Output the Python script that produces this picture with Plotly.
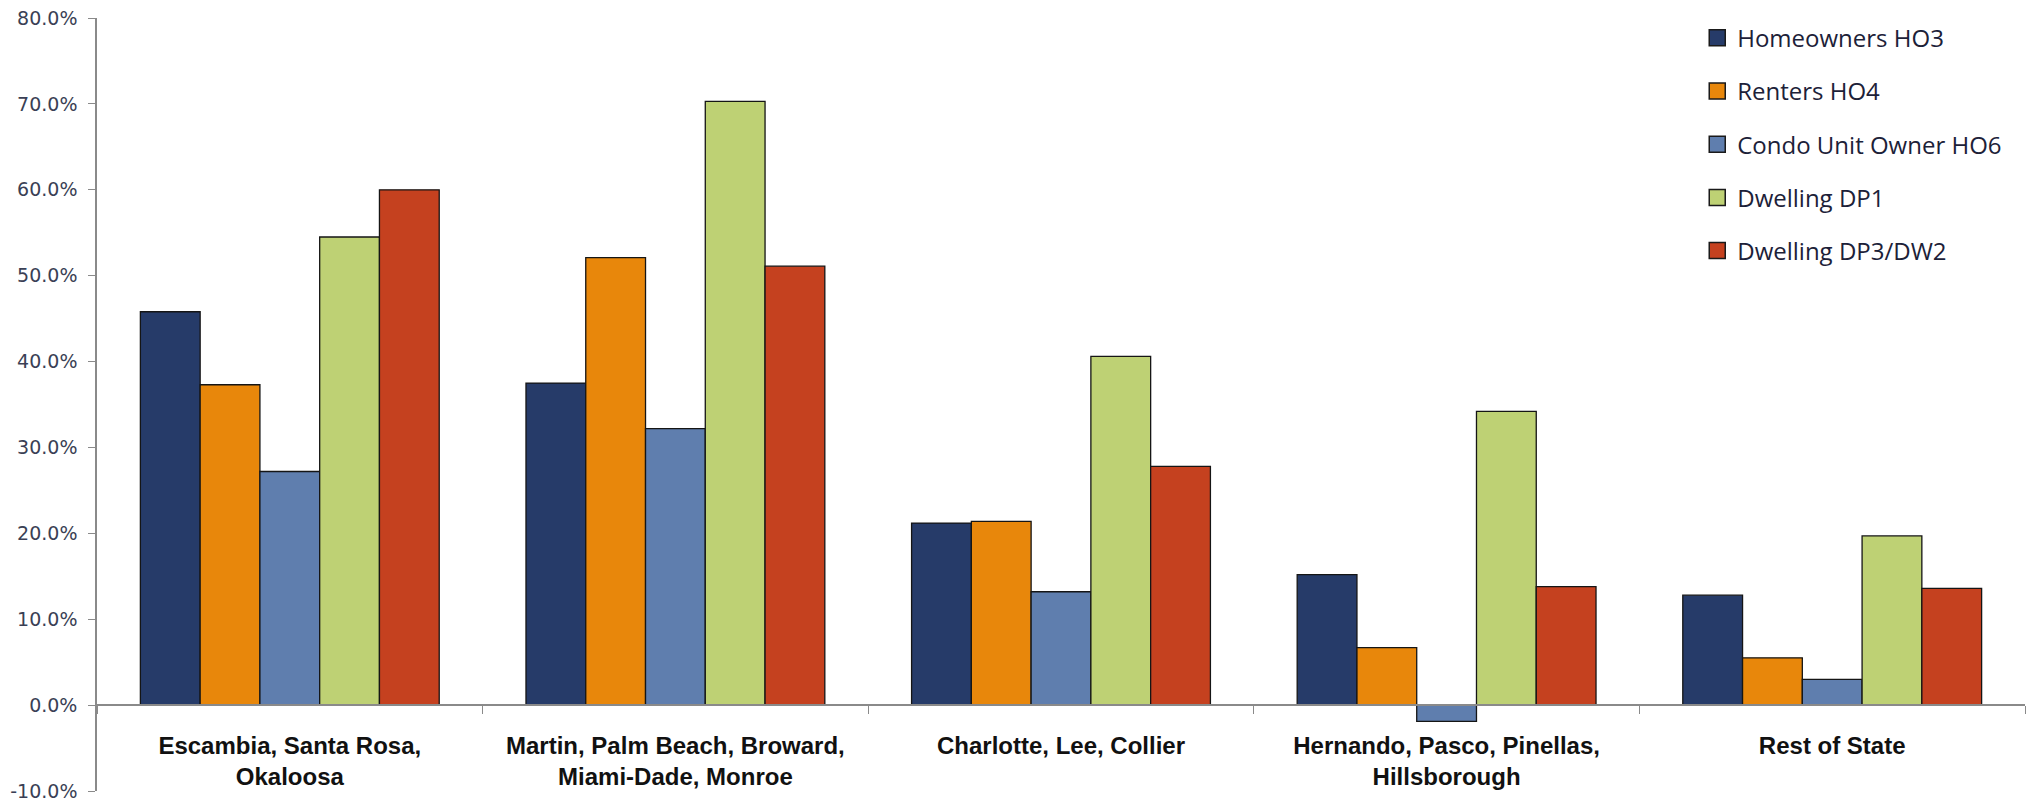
import plotly.graph_objects as go

# Regions (x-axis categories); "<br>" breaks the long labels onto two lines
regions = [
    "Escambia, Santa Rosa,<br>Okaloosa",
    "Martin, Palm Beach, Broward,<br>Miami-Dade, Monroe",
    "Charlotte, Lee, Collier",
    "Hernando, Pasco, Pinellas,<br>Hillsborough",
    "Rest of State",
]

# Indicated rate change by policy form (fractions)
homeowners_ho3 = [0.458, 0.375, 0.212, 0.152, 0.128]
renters_ho4 = [0.373, 0.521, 0.214, 0.067, 0.055]
condo_ho6 = [0.272, 0.322, 0.132, -0.019, 0.030]
dwelling_dp1 = [0.545, 0.703, 0.406, 0.342, 0.197]
dwelling_dp3 = [0.600, 0.511, 0.278, 0.138, 0.136]

series_names = [
    "Homeowners HO3",
    "Renters HO4",
    "Condo Unit Owner HO6",
    "Dwelling DP1",
    "Dwelling DP3/DW2",
]
series_values = [homeowners_ho3, renters_ho4, condo_ho6, dwelling_dp1, dwelling_dp3]
series_colors = ["#263B69", "#E8870B", "#5F7EAE", "#BED174", "#C5411F"]

# Y-axis ticks
y_ticks = [-0.1, 0.0, 0.1, 0.2, 0.3, 0.4, 0.5, 0.6, 0.7, 0.8]
y_tick_labels = ["-10.0%", "0.0%", "10.0%", "20.0%", "30.0%",
                 "40.0%", "50.0%", "60.0%", "70.0%", "80.0%"]
y_min, y_max = -0.10, 0.80

fig = go.Figure()

for name, vals, color in zip(series_names, series_values, series_colors):
    fig.add_trace(go.Bar(
        x=regions,
        y=vals,
        name=name,
        marker=dict(color=color, line=dict(color="#151515", width=1.3)),
        showlegend=False,
        hovertemplate="%{y:.1%}<extra>" + name + "</extra>",
    ))

# Legend entries drawn as larger square swatches
for i, (name, color) in enumerate(zip(series_names, series_colors)):
    fig.add_trace(go.Scatter(
        x=[None], y=[None],
        mode="markers",
        name=name,
        legendgroup=f"g{i}",
        marker=dict(symbol="square", size=16, color=color,
                    line=dict(color="#1a1a1a", width=1.5)),
        hoverinfo="skip",
    ))

zero_pos = (0 - y_min) / (y_max - y_min)

fig.update_layout(
    width=2028,
    height=805,
    margin=dict(l=97, r=3, t=18, b=5),
    paper_bgcolor="white",
    plot_bgcolor="white",
    barmode="group",
    bargap=0.225,
    bargroupgap=0,
    showlegend=True,
    legend=dict(
        x=0.830, y=1.003, xanchor="left", yanchor="top",
        traceorder="grouped",
        tracegroupgap=19,
        font=dict(family="Open Sans", size=24, color="#1c2138"),
        bgcolor="rgba(0,0,0,0)",
        itemsizing="trace",
    ),
    xaxis=dict(
        type="category",
        anchor="free",
        position=zero_pos,
        showline=True,
        linecolor="#8a8a8a",
        linewidth=1.5,
        ticks="outside",
        tickson="boundaries",
        ticklen=8,
        tickcolor="#8a8a8a",
        tickwidth=1.3,
        showgrid=False,
        zeroline=False,
        ticklabelstandoff=19,
        tickfont=dict(family="Liberation Sans", size=24, color="#111111",
                      weight="bold"),
        fixedrange=True,
    ),
    yaxis=dict(
        range=[y_min, y_max],
        tickmode="array",
        tickvals=y_ticks,
        ticktext=y_tick_labels,
        ticklabeloverflow="allow",
        showline=True,
        linecolor="#8a8a8a",
        linewidth=1.5,
        ticks="outside",
        ticklen=7,
        tickcolor="#8a8a8a",
        tickwidth=1.3,
        showgrid=False,
        zeroline=False,
        ticklabelstandoff=7,
        tickfont=dict(family="DejaVu Sans", size=19, color="#3a3f55"),
        fixedrange=True,
    ),
)

fig.write_html("out.html")
